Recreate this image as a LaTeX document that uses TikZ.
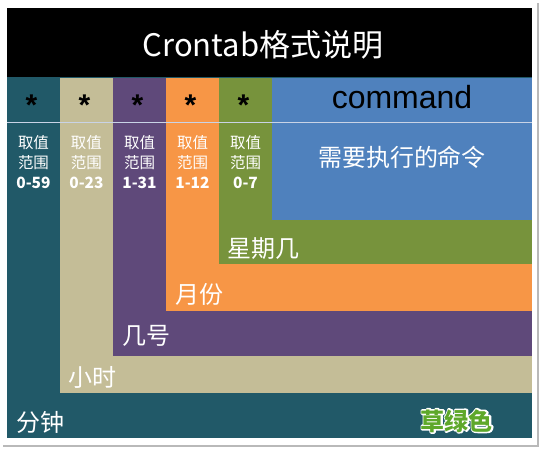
\documentclass[tikz,border=0pt]{standalone}
\usepackage{fontspec}
\setmainfont{Liberation Sans}
\newfontfamily\cjk{Noto Sans CJK SC}
\definecolor{minteal}{HTML}{215968}
\definecolor{hourtan}{HTML}{C4BD97}
\definecolor{daypurple}{HTML}{5F497A}
\definecolor{monthorange}{HTML}{F79646}
\definecolor{weekgreen}{HTML}{77933C}
\definecolor{cmdblue}{HTML}{4F81BD}
\definecolor{grassgreen}{HTML}{5EA82A}
\definecolor{splitline}{HTML}{C9D3E6}
% white halo round a text: stroked copy under the filled one
\newcommand\halotext[1]{\special{pdf:code q 1 Tr 3 w 1 J 1 j 1 1 1 RG}\rlap{#1}\special{pdf:code Q}#1}

\begin{document}
\begin{tikzpicture}[x=1pt, y=-1pt,
    lbl/.style={text=white, inner sep=0, anchor=base west, font=\cjk\fontsize{24}{24}\selectfont},
    starmark/.style={inner sep=0, anchor=base, font=\bfseries\fontsize{30}{30}\selectfont},
    rangetxt/.style={text=white, inner sep=0, anchor=base, align=center, font=\cjk\fontsize{15.5}{20}\selectfont}]
    \useasboundingbox (0,0) rectangle (542,450);

    % Frame shadow
    \draw[gray!55, line width=1.5pt] (538,3) -- (538,446) -- (3,446);

    % Title bar
    \fill[black] (7,8) rectangle (532,77);
    \node[text=white, inner sep=0, anchor=base, font=\cjk\fontsize{31}{31}\selectfont] (title) at (263,56) {Crontab格式说明};

    % Nested fields
    \fill[minteal] (7,77) rectangle (532,438);
    \fill[hourtan] (60,78) rectangle (532,393);
    \fill[daypurple] (113,78) rectangle (532,356);
    \fill[monthorange] (166,78) rectangle (532,311);
    \fill[weekgreen] (219,78) rectangle (532,264);
    \fill[cmdblue] (272,78) rectangle (532,220);

    % Split line
    \draw[splitline, line width=1pt] (7,122) -- (532,122);

    % Stars and ranges
    \foreach \x/\r [count=\i] in {33.5/0-59, 86.5/0-23, 139.5/1-31, 192.5/1-12, 245.5/0-7} {
        \node[starmark] (s\i) at (\x-2,115) {*};
        \node[rangetxt] (r\i) at (\x,188) {取值\\范围\\\textbf{\r}};
    }

    % Command
    \node[inner sep=0, anchor=base, font=\fontsize{32}{32}\selectfont] (cmd) at (402,108) {command};
    \node[text=white, inner sep=0, anchor=base, font=\cjk\fontsize{24}{24}\selectfont] (cmdtext) at (402,166) {需要执行的命令};

    % Field names
    \node[lbl] (week) at (227,257) {星期几};
    \node[lbl] (month) at (175,303) {月份};
    \node[lbl] (day) at (122,344) {几号};
    \node[lbl] (hour) at (68,386) {小时};
    \node[lbl] (minute) at (16,431) {分钟};
    \node[text=grassgreen, inner sep=0, anchor=base east, font=\cjk\bfseries\fontsize{24}{24}\selectfont] (grass) at (493,430) {\halotext{草绿色}};
\end{tikzpicture}
\end{document}
